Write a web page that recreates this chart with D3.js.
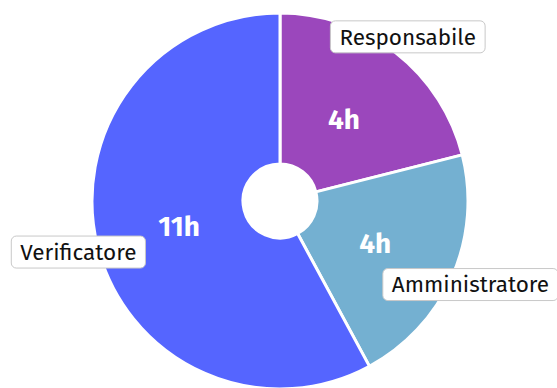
<!DOCTYPE html>
<html>
<head>
<meta charset="utf-8">
<script src="https://cdn.jsdelivr.net/npm/d3@7"></script>
<style>
html,body{margin:0;padding:0;background:#fff;overflow:hidden;}
svg{display:block;}
</style>
</head>
<body>
<svg id="chart" width="557" height="388"></svg>
<script>
const categories = ["Responsabile", "Amministratore", "Verificatore"];
const hours = [4, 4, 11];
const valueLabels = ["4h", "4h", "11h"];
const colors = ["#9b47bc", "#74b0d1", "#5565ff"];

const W = 557, H = 388;
const cx = 280, cy = 201;
const outerR = 188, innerR = 37;

const svg = d3.select("#chart");
const g = svg.append("g").attr("transform", `translate(${cx},${cy})`);

const data = categories.map((c, i) => ({name: c, value: hours[i], label: valueLabels[i], color: colors[i]}));
const pie = d3.pie().sort(null).value(d => d.value).startAngle(0).endAngle(2 * Math.PI);
const arcs = pie(data);

const arc = d3.arc().innerRadius(innerR).outerRadius(outerR);
const valueArc = d3.arc().innerRadius(104).outerRadius(104);
const nameArc = d3.arc().innerRadius(208).outerRadius(208);

g.selectAll("path.slice").data(arcs).join("path")
  .attr("class", "slice")
  .attr("d", arc)
  .attr("fill", d => d.data.color)
  .attr("stroke", "#fff")
  .attr("stroke-width", 3)
  .attr("stroke-linejoin", "round");

g.selectAll("text.val").data(arcs).join("text")
  .attr("class", "val")
  .attr("transform", d => `translate(${valueArc.centroid(d)})`)
  .attr("text-anchor", "middle")
  .attr("dy", "0.35em")
  .attr("fill", "#fff")
  .attr("font-family", "'Fira Sans', 'Open Sans', sans-serif")
  .attr("font-weight", "bold")
  .attr("font-size", 28)
  .text(d => d.data.label);

const lbl = g.selectAll("g.name").data(arcs).join("g")
  .attr("class", "name")
  .attr("transform", d => `translate(${nameArc.centroid(d)})`);

lbl.each(function(d) {
  const sel = d3.select(this);
  const rect = sel.append("rect");
  const t = sel.append("text")
    .attr("text-anchor", "middle")
    .attr("dy", "0.35em")
    .attr("fill", "#111")
    .attr("font-family", "'Fira Sans', 'Open Sans', sans-serif")
    .attr("font-size", 22.5)
    .text(d.data.name);
  const w = t.node().getComputedTextLength() + 18;
  const h = 32;
  rect.attr("x", -w / 2).attr("y", -h / 2).attr("width", w).attr("height", h)
    .attr("rx", 5).attr("ry", 5)
    .attr("fill", "#fff")
    .attr("stroke", "#c8c8c8")
    .attr("stroke-width", 1);
});
</script>
</body>
</html>
